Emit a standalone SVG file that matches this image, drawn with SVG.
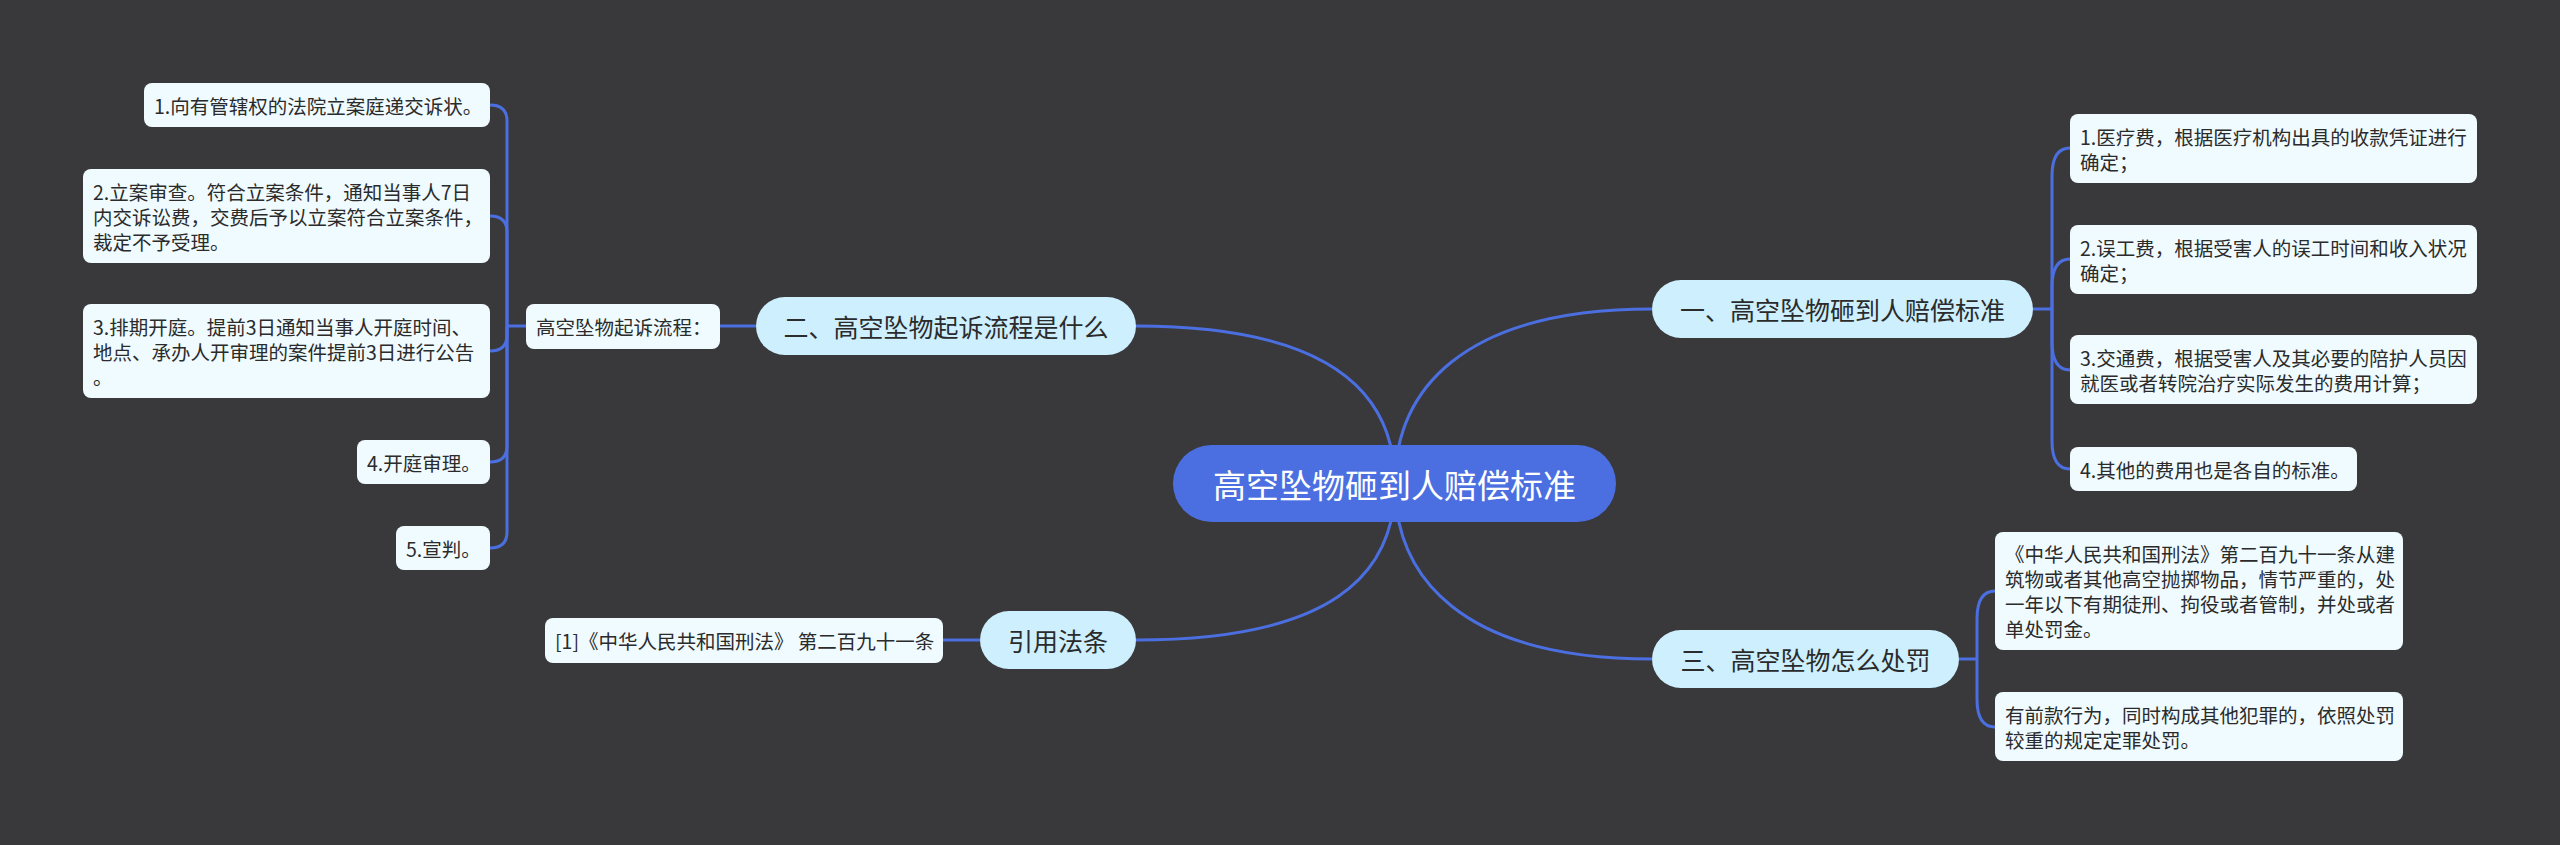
<svg xmlns="http://www.w3.org/2000/svg" width="2560" height="845" viewBox="0 0 2560 845">
<style>
.bg{fill:#39393b}
.ln{fill:none;stroke:#4b6fe0;stroke-width:3}
.root rect{fill:#4b6fe0}
.root text{fill:#ffffff;font-size:33px}
.l1 rect{fill:#cdeffe}
.l1 text{fill:#2b2b2b;font-size:25px}
.l2 rect{fill:#effbff}
.l2 text{fill:#2b2b2b;font-size:19.5px}
text{font-family:"Noto Sans CJK SC","Microsoft YaHei",sans-serif;dominant-baseline:central}
.c{text-anchor:middle}
</style>
<rect class="bg" x="0" y="0" width="2560" height="845"/>
<g id="connectors">
<path class="ln" d="M1395,484 C1395,392 1330,326 1136,326"/>
<path class="ln" d="M1395,484 C1395,576 1330,640 1136,640"/>
<path class="ln" d="M1395,484 C1395,392 1460,309 1652,309"/>
<path class="ln" d="M1395,484 C1395,576 1460,659 1652,659"/>
<path class="ln" d="M756,326 H720"/>
<path class="ln" d="M526,326 H507"/>
<path class="ln" d="M507,326 V121 Q507,105 490,105"/>
<path class="ln" d="M507,326 V232 Q507,216 490,216"/>
<path class="ln" d="M507,326 V335 Q507,351 490,351"/>
<path class="ln" d="M507,326 V446 Q507,462 490,462"/>
<path class="ln" d="M507,326 V532 Q507,548 490,548"/>
<path class="ln" d="M980,640 H943"/>
<path class="ln" d="M2033,309 H2052"/>
<path class="ln" d="M2052,309 V176 Q2052,148 2070,148"/>
<path class="ln" d="M2052,309 V287 Q2052,259 2070,259"/>
<path class="ln" d="M2052,309 V342 Q2052,370 2070,370"/>
<path class="ln" d="M2052,309 V441 Q2052,469 2070,469"/>
<path class="ln" d="M1959,659 H1977"/>
<path class="ln" d="M1977,659 V619 Q1977,591 1995,591"/>
<path class="ln" d="M1977,659 V699 Q1977,727 1995,727"/>
</g>
<g id="root" class="root">
<rect x="1173" y="445" width="443" height="77" rx="38.5"/>
<text class="c" x="1394.5" y="484">高空坠物砸到人赔偿标准</text>
</g>
<g id="n-two" class="l1">
<rect x="756" y="297" width="380" height="58" rx="29"/>
<text class="c" x="946" y="326">二、高空坠物起诉流程是什么</text>
</g>
<g id="n-cite" class="l1">
<rect x="980" y="611" width="156" height="58" rx="29"/>
<text class="c" x="1058" y="640">引用法条</text>
</g>
<g id="n-one" class="l1">
<rect x="1652" y="280" width="381" height="58" rx="29"/>
<text class="c" x="1842.5" y="309">一、高空坠物砸到人赔偿标准</text>
</g>
<g id="n-three" class="l1">
<rect x="1652" y="630" width="307" height="58" rx="29"/>
<text class="c" x="1805.5" y="659">三、高空坠物怎么处罚</text>
</g>
<g id="n-flow" class="l2">
<rect x="526" y="304" width="194" height="45" rx="8"/>
<text x="536" y="326.5">高空坠物起诉流程：</text>
</g>
<g id="n-s1" class="l2">
<rect x="144" y="83" width="346" height="44" rx="8"/>
<text x="154" y="105">1.向有管辖权的法院立案庭递交诉状。</text>
</g>
<g id="n-s2" class="l2">
<rect x="83" y="169" width="407" height="94" rx="8"/>
<text x="93" y="191">2.立案审查。符合立案条件，通知当事人7日</text>
<text x="93" y="216">内交诉讼费，交费后予以立案符合立案条件，</text>
<text x="93" y="241">裁定不予受理。</text>
</g>
<g id="n-s3" class="l2">
<rect x="83" y="304" width="407" height="94" rx="8"/>
<text x="93" y="326">3.排期开庭。提前3日通知当事人开庭时间、</text>
<text x="93" y="351">地点、承办人开审理的案件提前3日进行公告</text>
<text x="93" y="376">。</text>
</g>
<g id="n-s4" class="l2">
<rect x="357" y="440" width="133" height="44" rx="8"/>
<text x="367" y="462">4.开庭审理。</text>
</g>
<g id="n-s5" class="l2">
<rect x="396" y="526" width="94" height="44" rx="8"/>
<text x="406" y="548">5.宣判。</text>
</g>
<g id="n-law" class="l2">
<rect x="545" y="618" width="398" height="45" rx="8"/>
<text x="555" y="640.5">[1]《中华人民共和国刑法》 第二百九十一条</text>
</g>
<g id="n-r1" class="l2">
<rect x="2070" y="114" width="407" height="69" rx="8"/>
<text x="2080" y="136">1.医疗费，根据医疗机构出具的收款凭证进行</text>
<text x="2080" y="161">确定；</text>
</g>
<g id="n-r2" class="l2">
<rect x="2070" y="225" width="407" height="69" rx="8"/>
<text x="2080" y="247">2.误工费，根据受害人的误工时间和收入状况</text>
<text x="2080" y="272">确定；</text>
</g>
<g id="n-r3" class="l2">
<rect x="2070" y="335" width="407" height="69" rx="8"/>
<text x="2080" y="357">3.交通费，根据受害人及其必要的陪护人员因</text>
<text x="2080" y="382">就医或者转院治疗实际发生的费用计算；</text>
</g>
<g id="n-r4" class="l2">
<rect x="2070" y="447" width="287" height="44" rx="8"/>
<text x="2080" y="469">4.其他的费用也是各自的标准。</text>
</g>
<g id="n-p1" class="l2">
<rect x="1995" y="532" width="408" height="118" rx="8"/>
<text x="2005" y="553.5">《中华人民共和国刑法》第二百九十一条从建</text>
<text x="2005" y="578.5">筑物或者其他高空抛掷物品，情节严重的，处</text>
<text x="2005" y="603.5">一年以下有期徒刑、拘役或者管制，并处或者</text>
<text x="2005" y="628.5">单处罚金。</text>
</g>
<g id="n-p2" class="l2">
<rect x="1995" y="692" width="408" height="69" rx="8"/>
<text x="2005" y="714">有前款行为，同时构成其他犯罪的，依照处罚</text>
<text x="2005" y="739">较重的规定定罪处罚。</text>
</g>
</svg>
